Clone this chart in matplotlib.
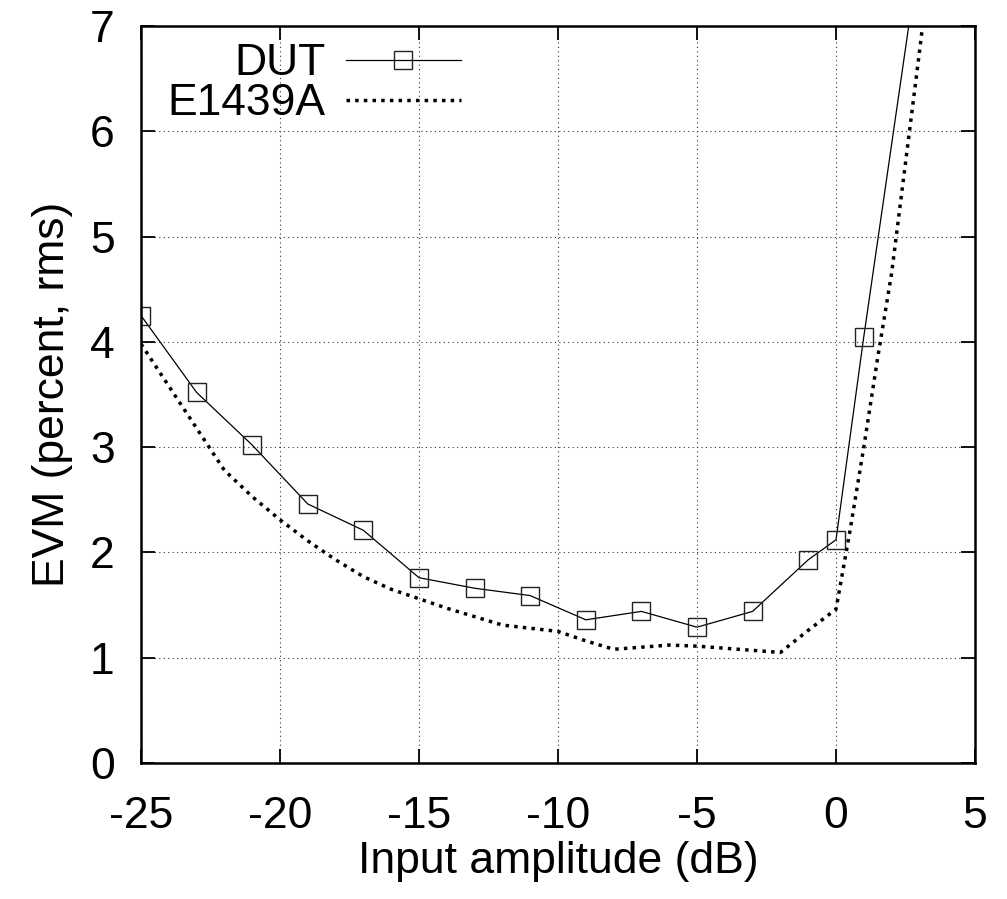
import numpy as np
import matplotlib.pyplot as plt

plt.rcParams['font.family'] = ['Liberation Sans', 'DejaVu Sans']

# DUT measurements (dB, EVM %)
dut_x = [-25, -23, -21, -19, -17, -15, -13, -11, -9, -7, -5, -3, -1, 0, 1, 3]
dut_y = [4.25, 3.52, 3.02, 2.46, 2.21, 1.76, 1.66, 1.59, 1.36, 1.44, 1.29, 1.44, 1.93, 2.12, 4.05, 7.7]

# E1439A reference
ref_x = [-25, -24, -23, -22, -21, -20, -19, -18, -17, -16, -15, -14, -13, -12, -11, -10,
         -9, -8, -7, -6, -5, -4, -3, -2, -1, 0, 0.5, 1, 1.5, 2, 2.5, 3, 3.5]
ref_y = [3.98, 3.58, 3.18, 2.78, 2.53, 2.31, 2.11, 1.93, 1.77, 1.65, 1.56, 1.47, 1.39, 1.31, 1.28, 1.25,
         1.16, 1.08, 1.10, 1.12, 1.11, 1.09, 1.07, 1.05, 1.26, 1.46, 2.2, 3.0, 3.85, 4.65, 5.7, 6.75, 7.85]

xticks = [-25, -20, -15, -10, -5, 0, 5]
yticks = [0, 1, 2, 3, 4, 5, 6, 7]

fs = 32

fig = plt.figure(figsize=(10.07, 8.99), dpi=100)
ax = fig.add_axes([141 / 1007, 136 / 899, 834 / 1007, 737 / 899])

ax.plot(dut_x, dut_y, color='black', lw=0.9, marker='s', markersize=13.5,
        markerfacecolor='none', markeredgecolor='#222222', markeredgewidth=1.0, label='DUT')
ax.plot(ref_x, ref_y, color='black', lw=2.5, linestyle=(0, (1, 1.5)),
        dash_capstyle='butt', label='E1439A')

ax.set_xlim(-25, 5)
ax.set_ylim(0, 7)
ax.set_xticks(xticks)
ax.set_yticks(yticks)
ax.set_xticklabels([str(t) for t in xticks])
ax.grid(True, color='#333333', linestyle=(0, (1, 3)), lw=0.8)

for s in ax.spines.values():
    s.set_linewidth(1.8)
ax.tick_params(direction='in', length=10, width=1.3, top=True, right=True,
               labelsize=fs, pad=19)
ax.tick_params(axis='x', pad=24)

ax.set_xlabel('Input amplitude (dB)', fontsize=fs, labelpad=3)
ax.set_ylabel('EVM (percent, rms)', fontsize=fs, labelpad=12)

ax.legend(loc='upper left', bbox_to_anchor=(0.0, 1.013), frameon=False, fontsize=fs,
          markerfirst=False, handlelength=2.6, handletextpad=0.45, labelspacing=-0.02,
          numpoints=1, borderaxespad=0.2)

fig.savefig('out.png', dpi=100)
